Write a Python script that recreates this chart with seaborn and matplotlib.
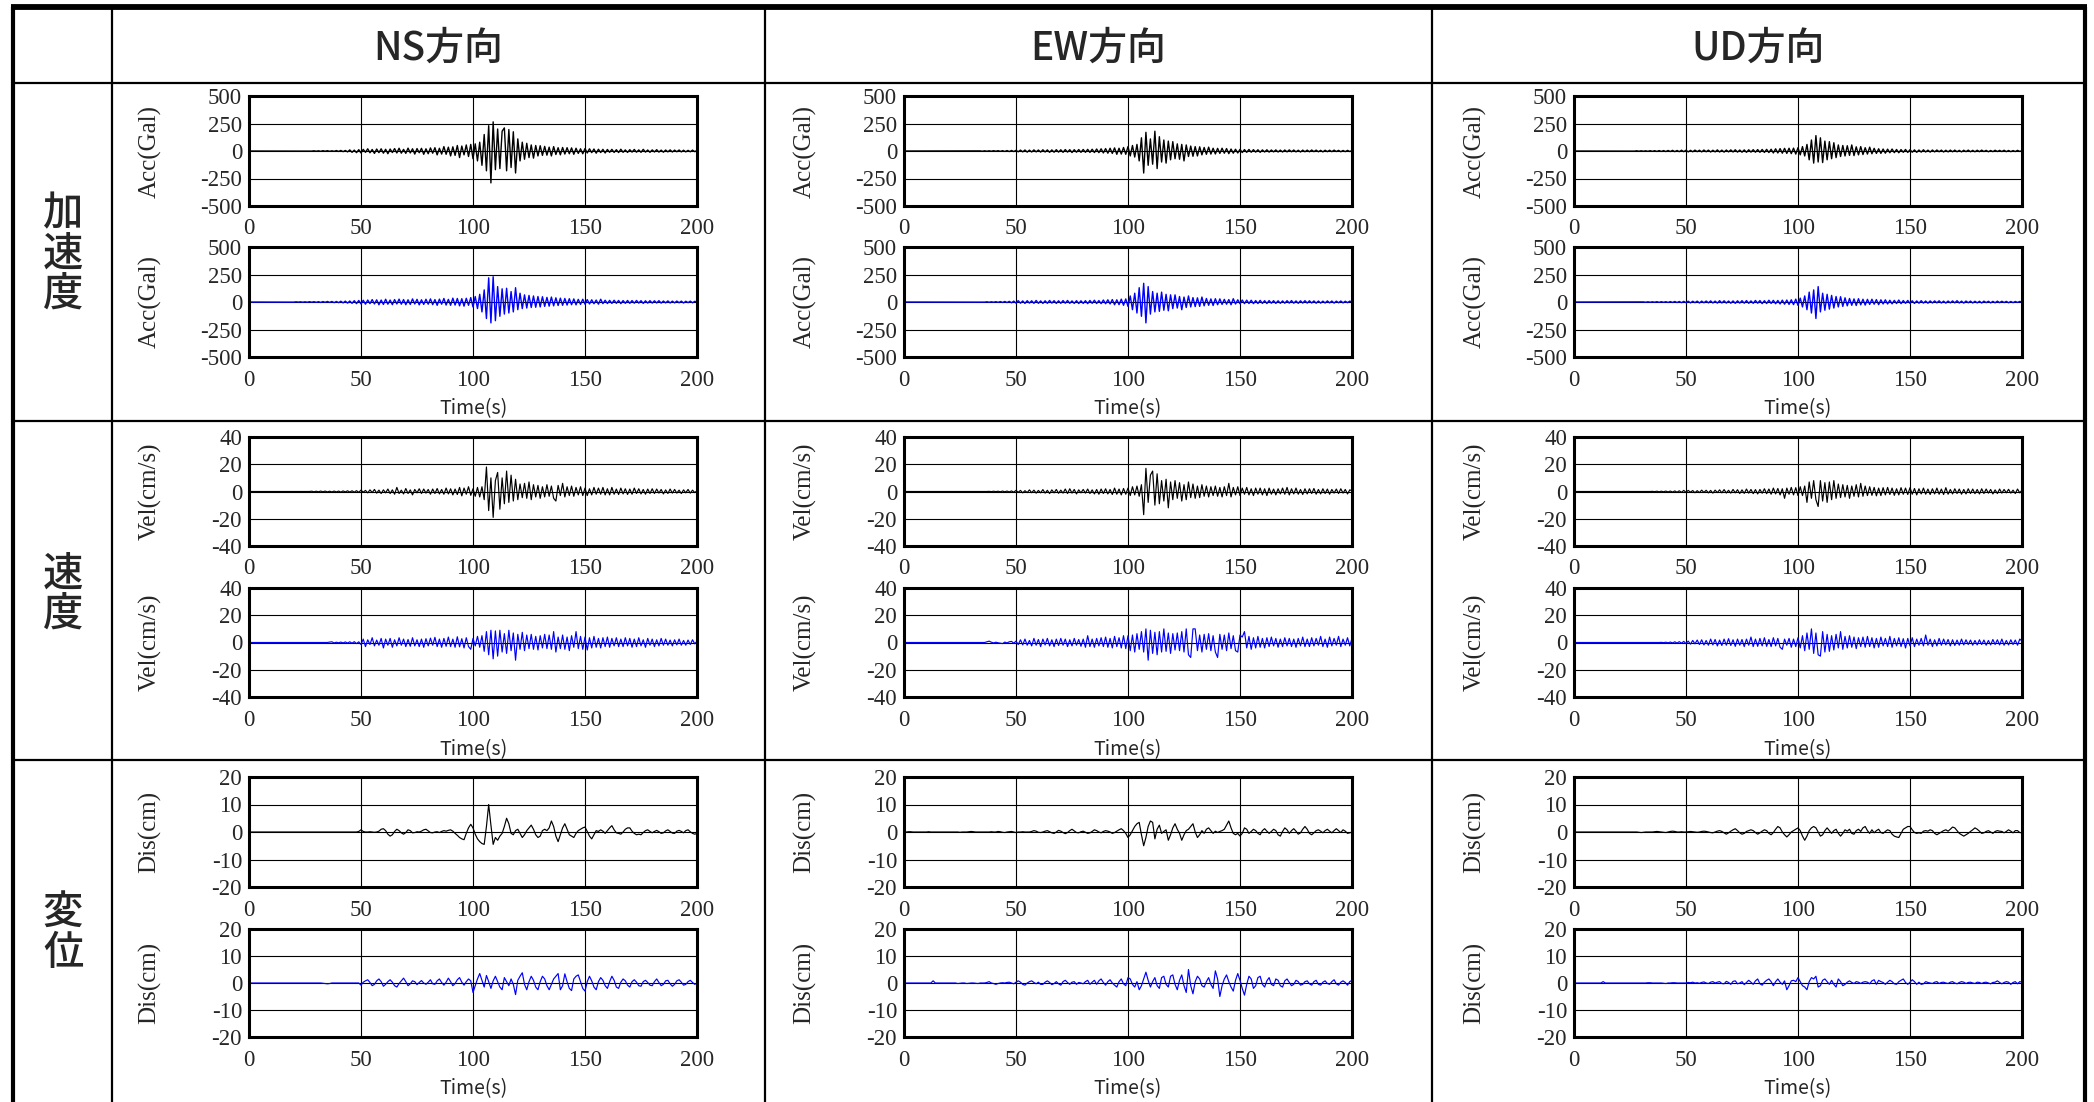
import numpy as np
import matplotlib
matplotlib.use("Agg")
import matplotlib.pyplot as plt
import seaborn as sns

# 観測記録(黒)と解析結果(青), 1秒ごとに図から読み取った値 (t = 0..200 s)
ns_acc_k = [
    0, 0, 0, 0, 0, 0, 0, 0, 0, 0,
    0, 0, 0, 0, 0, 0, 0, 0, 0, 0,
    0, 0, 0, 0, 0, 1, -1, 1, -1, 2,
    -2, 2, -3, 3, -2, 3, -3, 2, -3, 4,
    -4, 5, -6, 5, -8, 10, -12, 8, -15, 12,
    -18, 15, -12, 20, -16, 14, -22, 18, -15, 20,
    -20, 16, -25, 18, -14, 22, -18, 25, -20, 15,
    -22, 26, -18, 20, -28, 22, -16, 24, -30, 20,
    -25, 28, -20, 30, -35, 25, -28, 40, -30, 35,
    -45, 38, -40, 50, -60, 45, -35, 55, -50, 60,
    -70, 65, -90, 80, -130, 150, -180, 230, -290, 265,
    -170, 200, -160, 180, 210, -180, 195, -150, 175, -200,
    110, -90, 80, -75, 70, -60, 55, -65, 50, -45,
    48, -40, 42, -38, 35, -45, 40, -32, 30, -35,
    32, -28, 30, -25, 28, -30, 25, -22, 20, -25,
    22, -18, 20, -15, 18, -20, 16, -14, 15, -18,
    14, -12, 15, -13, 12, -14, 16, -12, 10, -13,
    12, -10, 14, -11, 10, -12, 15, -10, 9, -12,
    10, -9, 12, -10, 8, -11, 9, -8, 10, -9,
    8, -7, 9, -8, 7, -8, 6, -7, 8, -6, 5,
]
ns_acc_b = [
    0, 0, 0, 0, 0, 0, 0, 0, 0, 0,
    0, 0, 0, 0, 0, 1, -1, 1, -1, 1,
    -1, 2, -1, 2, -2, 2, -2, 3, -2, 3,
    -3, 3, -4, 4, -3, 5, -4, 5, -6, 5,
    -6, 7, -8, 8, -10, 9, -12, 12, -15, 14,
    -18, 16, -20, 18, -15, 22, -18, 20, -25, 18,
    -22, 25, -20, 18, -24, 22, -18, 26, -20, 22,
    -25, 20, -22, 28, -18, 24, -26, 20, -22, 25,
    -20, 28, -24, 22, -30, 26, -20, 32, -28, 24,
    -30, 35, -28, 32, -35, 30, -38, 34, -30, 40,
    -45, 50, -60, 70, -90, 110, -150, 220, -190, 230,
    -170, 140, -130, 120, -110, 125, -100, 95, -90, 130,
    -70, 80, -60, 65, -55, 60, -50, 55, -48, 50,
    -45, 48, -40, 42, -38, 45, -35, 38, -32, 35,
    -30, 32, -28, 30, -25, 28, -26, 24, -22, 25,
    -20, 22, -18, 20, -16, 18, -20, 25, -15, 16,
    -14, 15, -13, 16, -12, 14, -15, 13, -12, 14,
    -12, 13, -11, 14, -10, 12, -13, 11, -10, 12,
    -10, 11, -9, 12, -10, 9, -8, 10, -9, 8,
    -8, 9, -7, 8, -9, 7, -6, 8, -7, 6, 0,
]
ns_vel_k = [
    0, 0, 0, 0, 0, 0, 0, 0, 0, 0,
    0, 0, 0, 0, 0, 0, 0, 0, 0, 0,
    0, 0, 0, 0, 0, 0, 0, 0, 0.2, -0.2,
    0.2, -0.2, 0.3, -0.2, 0.3, -0.3, 0.2, -0.3, 0.3, -0.3,
    0.3, -0.4, 0.4, -0.3, 0.5, -0.4, 0.5, -0.5, 0.6, -0.6,
    1.0, -0.5, 0.8, -1.0, 1.2, -0.8, 1.5, -1.2, 1.0, -1.5,
    1.2, -1.0, 1.8, -1.5, 1.2, -2.0, 3.0, -1.5, 1.0, -1.8,
    2.2, -1.5, 1.2, -2.5, 1.5, -1.0, 2.0, -1.5, 1.8, -1.2,
    1.5, -2.0, 1.8, -1.5, 2.2, -1.8, 1.5, -2.0, 2.5, -1.8,
    2.0, -2.5, 1.8, -2.2, 3.0, -3.2, 2.5, -2.0, 3.5, -2.8,
    2.0, -3.5, 3.0, -4.0, 3.5, -6.0, 18.0, -14.0, 10.0, -19.0,
    8.0, 14.0, -13.0, 10.0, -9.0, 15.0, -8.0, 12.0, -7.0, 9.0,
    -6.0, 5.5, -4.5, 6.0, -5.0, 7.0, -6.0, 5.0, -4.0, 4.5,
    -5.0, 3.5, -4.0, 5.0, -3.5, 4.0, -5.0, -7.0, 4.5, -3.0,
    6.0, -4.0, 3.5, -3.0, 4.0, -3.5, 3.0, -2.5, 3.5, -3.0,
    2.5, -3.0, 2.0, -2.5, 3.0, -2.0, 2.5, -2.0, 3.0, -2.5,
    2.0, -2.5, 3.0, -2.0, 1.8, -2.2, 2.5, -1.8, 2.0, -2.2,
    1.8, -2.0, 2.5, -1.5, 2.0, -1.8, 1.5, -2.0, 1.8, -1.5,
    2.0, -1.5, 1.8, -1.2, 1.5, -1.8, 1.2, -1.5, 1.8, -1.2,
    1.5, -1.2, 1.0, -1.5, 1.2, -1.0, 1.5, -1.2, 1.0, -0.8, 0.5,
]
ns_vel_b = [
    0, 0, 0, 0, 0, 0, 0, 0, 0, 0,
    0, 0, 0, 0, 0, 0, 0, 0, 0, 0,
    0, 0, 0, 0, 0, 0, 0, 0, 0, 0,
    0, 0, 0, 0, 0, 0, 0.3, 0.5, -0.3, 0.2,
    -0.2, 0.3, -0.3, 0.4, -0.4, 0.5, -0.5, 0.6, -0.8, 0.5,
    -1.5, 2.5, -3.0, 2.0, -1.5, 3.5, -2.5, 1.8, -2.0, 3.0,
    -4.0, 2.5, -2.0, 3.0, -3.5, 2.0, -2.5, 3.5, -2.0, 2.5,
    -3.0, 2.2, -2.8, 3.5, -2.5, 2.0, -3.0, 2.5, -3.5, 2.8,
    -2.5, 3.2, -2.0, 3.8, -3.0, 2.5, -3.5, 3.0, -2.8, 4.0,
    -3.0, 2.5, -3.5, 4.2, -3.2, 2.8, -4.0, 3.5, -3.0, -5.0,
    3.0, -2.5, 4.5, -3.5, 5.0, -6.5, 8.0, -9.0, 9.0, -12.0,
    8.5, -10.0, 9.0, -7.0, 6.5, -8.0, 9.0, -6.0, 7.0, -13.0,
    6.0, -5.0, 7.5, -6.0, 5.5, -4.5, 6.0, -5.0, 4.5, -5.5,
    5.0, -4.0, 6.0, -4.5, 5.5, -5.0, 8.0, -7.0, 4.0, -4.5,
    5.5, -5.0, 4.0, -6.0, 5.0, -3.5, 8.0, -4.5, 4.5, -5.0,
    4.0, -5.5, 3.5, -4.0, 4.5, -3.5, 3.0, -4.0, 3.5, -3.0,
    4.0, -3.5, 3.0, -2.5, 3.5, -3.0, 2.5, -3.0, 3.5, -2.5,
    3.0, -3.5, 2.5, -3.0, 3.5, -2.5, 2.0, -3.5, 3.0, -2.0,
    2.5, -3.0, 2.0, -2.5, 3.0, -2.0, 2.5, -2.0, 1.8, -2.5,
    2.0, -1.8, 2.5, -2.0, 1.5, -2.0, 1.8, -1.5, 2.0, -1.0, 1.0,
]
ns_dis_k = [
    0, 0, 0, 0, 0, 0, 0, 0, 0, 0,
    0, 0, 0, 0, 0, 0, 0, 0, 0, 0,
    0, 0, 0, 0, 0, 0, 0, 0, 0, 0,
    0, 0, 0, 0, 0, 0, 0, 0, 0, 0,
    0, 0, 0, 0, 0, 0, 0, 0, 0, 0.2,
    0.8, 0.2, 0, 0, 0.1, 0, -0.1, 0, 0.3, 1.0,
    1.2, 0.5, -0.8, -1.5, -1.0, 0.2, 1.0, 0.5, -0.3, -0.8,
    -0.2, 0.8, 0.5, -0.3, -0.2, 0.1, 0, 0.3, 0.8, 1.0,
    0.4, -0.2, -0.3, 0, 0.1, -0.2, 0.2, 0.5, 0.3, 0.6,
    0.8, 0.3, -0.5, -1.2, -2.0, -2.5, -2.8, -0.5, 1.5, 2.8,
    1.5, -0.8, -2.5, -3.5, -4.2, -4.5, 2.0, 10.0, 2.5, -4.5,
    -2.0, -3.0, -1.5, -0.5, 2.0, 5.0, 3.0, -0.5, -1.0, 0.5,
    1.0, -0.5, -2.0, -1.0, 0.5, 1.5, 2.5, 1.0, -1.0, -2.0,
    -1.5, 0.5, 1.0, 0.5, 1.5, 4.0, 2.0, -1.5, -3.5, -1.0,
    1.5, 3.0, 1.0, -1.0, -1.5, -2.0, -0.5, 0.5, 1.0, 1.5,
    1.8, 0.2, -1.5, -2.5, -1.0, 0.5, 0.2, 0.8, 0.3, -0.5,
    0.5, 1.5, 2.3, 0.8, -0.3, -0.5, -0.8, 0, 1.0, 1.5,
    1.5, 0.3, -0.5, -1.0, -0.8, -1.0, -0.2, 0.5, 0.8, 0.2,
    -0.3, 0.2, 0.6, 0.1, -0.5, -0.3, 0.4, 0.8, 0.2, -0.4,
    -0.5, 0.3, 0.6, 0.2, -0.3, 0.5, 0.8, 0.1, -0.5, -0.8, -0.5,
]
ns_dis_b = [
    0, 0, 0, 0, 0, 0, 0, 0, 0, 0,
    0, 0, 0, 0, 0, 0, 0, 0, 0, 0,
    0, 0, 0, 0, 0, 0, 0, 0, 0, 0,
    0, 0, 0, -0.1, -0.2, -0.3, -0.2, 0, 0, 0,
    0, 0, 0, 0, 0, 0, 0, 0, 0, 0,
    -0.8, 0.3, 0.8, 1.2, 0.2, -1.0, -0.5, 0.8, 1.5, 0.5,
    -1.2, -0.5, 0.5, 1.2, 0.3, -1.0, -1.5, -0.2, 0.8, 1.8,
    0.5, -1.0, -0.3, 0.8, 0.5, -0.6, 0.2, 0.9, 0, -0.5,
    0.3, 1.2, -0.3, -0.5, 0.8, 1.5, 0.2, -0.8, 0.3, 1.8,
    0.5, -1.0, -0.2, 1.2, 2.0, 0.3, -0.8, 0.5, 1.5, 0.8,
    -3.5, -1.0, 1.5, 3.5, 1.0, -1.5, 2.8, 0.5, -2.0, 0.8,
    2.5, 0.5, -1.5, -2.5, 2.0, 0.5, -1.0, 1.5, -0.5, -4.3,
    1.0, 2.5, 3.8, -0.5, -2.5, 0.5, 2.5, 1.0, -1.5, -2.5,
    0.5, 2.5, 1.5, -1.0, -2.5, -0.5, 1.5, 2.5, 3.5, -2.5,
    -1.0, 3.4, 0.5, -2.0, -2.8, 1.5, 2.5, 3.0, 0.5, -2.0,
    -3.0, 0.5, 2.5, 0.8, -1.5, -2.5, 0.5, 2.0, 1.0, -1.0,
    -2.0, 0.5, 2.5, 1.0, -1.5, -2.0, 0.3, 1.5, 0.8, -0.8,
    -1.5, 0.5, 1.2, 0.3, -1.0, -1.2, 0.5, 1.0, 0.2, -0.8,
    -1.0, 0.5, 1.5, 0.2, -1.0, -0.5, 0.8, 1.0, -0.3, -1.2,
    -0.5, 0.8, 1.2, 0.3, -0.8, -0.5, 0.5, 1.0, 0.2, -0.5, 0,
]
ew_acc_k = [
    0, 0, 0, 0, 0, 0, 0, 0, 0, 0,
    0, 0, 0, 0, 0, 0, 0, 0, 0, 0,
    0, 0, 0, 0, 0, 0, 0, 0, 1, -1,
    1, -1, 1, -1, 1, -2, 2, -2, 2, -2,
    3, -2, 3, -3, 3, -4, 4, -5, 5, -5,
    6, -7, 8, -8, 9, -10, 8, -9, 10, -8,
    9, -10, 11, -9, 10, -12, 10, -11, 12, -10,
    11, -12, 13, -10, 12, -14, 12, -11, 13, -12,
    14, -12, 15, -13, 16, -14, 18, -15, 20, -18,
    22, -20, 25, -22, 28, -30, 25, -28, 32, -30,
    40, -45, 50, -55, 60, -90, 120, -200, 170, -130,
    110, -120, 180, -160, 130, -100, 100, -110, 90, -80,
    85, -70, 65, -75, 60, -90, 55, -50, 45, -48,
    40, -45, 38, -35, 32, -30, 35, -28, 25, -27,
    24, -22, 25, -20, 22, -24, 18, -20, 16, -18,
    15, -14, 13, -12, 14, -11, 12, -10, 11, -12,
    10, -9, 11, -10, 9, -8, 10, -9, 8, -9,
    9, -8, 10, -7, 9, -8, 7, -9, 8, -7,
    8, -7, 9, -6, 8, -7, 6, -8, 7, -6,
    7, -6, 8, -5, 6, -7, 5, -6, 6, -5, 4,
]
ew_acc_b = [
    0, 0, 0, 0, 0, 0, 0, 0, 0, 0,
    0, 0, 0, 0, 0, 0, 0, 0, 0, 0,
    0, 0, 0, 0, 0, 0, 0, 0, 0, 0,
    0, 1, -1, 1, -1, 1, -1, 2, -2, 2,
    -2, 3, -3, 4, -4, 5, -5, 6, -7, 8,
    -10, 12, -11, 10, -13, 12, -10, 11, -12, 14,
    -12, 10, -13, 11, -12, 14, -10, 12, -13, 11,
    -12, 13, -11, 14, -12, 10, -13, 12, -14, 11,
    -13, 12, -15, 14, -12, 16, -14, 13, -15, 18,
    -16, 20, -18, 22, -25, 20, -24, 26, -30, 28,
    -40, 55, -70, 80, -100, 130, -130, 170, -190, 140,
    -110, 95, -90, 80, -85, 90, -75, 70, -80, 65,
    -60, 65, -55, 50, -70, 45, -50, 55, -45, 40,
    -42, 38, -40, 45, -35, 32, -30, 28, -32, 30,
    -25, 28, -22, 24, -20, 22, -25, 30, -18, 20,
    -16, 18, -15, 17, -14, 16, -15, 13, -14, 15,
    -13, 12, -14, 13, -11, 12, -13, 11, -12, 10,
    -11, 12, -10, 13, -11, 10, -12, 11, -10, 12,
    -10, 11, -9, 10, -11, 9, -10, 8, -9, 10,
    -8, 9, -10, 8, -7, 9, -8, 7, -6, 8, 0,
]
ew_vel_k = [
    0, 0, 0, 0, 0, 0, 0, 0, 0, 0,
    0, 0, 0, 0, 0, 0, 0, 0, 0, 0,
    0, 0, 0, 0, 0, 0, 0, 0, 0, 0,
    0, 0, 0, 0, 0, 0, 0, 0, 0.1, -0.1,
    0.2, -0.1, 0.2, -0.2, 0.3, -0.2, 0.3, -0.3, 0.4, -0.5,
    0.8, -0.6, 0.8, -1.0, 0.6, -0.8, 1.2, -0.9, 1.0, -1.2,
    0.8, -1.0, 1.4, -1.2, 0.9, -1.5, 1.2, -1.0, 1.5, -1.3,
    1.0, -1.2, 1.8, -1.5, 2.0, -1.2, 1.5, -1.8, 1.2, -1.0,
    1.5, -1.2, 1.8, -1.5, 1.2, -1.8, 1.5, -2.0, 1.8, -1.5,
    2.0, -1.8, 1.5, -2.2, 2.5, -2.0, 1.8, -2.5, 2.2, -2.0,
    2.5, -3.0, 3.5, -2.5, 4.0, -3.5, 5.0, -17.0, 17.0, -8.0,
    12.0, 15.0, -10.0, 13.0, -9.0, 8.0, -7.0, 9.0, -12.0, 7.0,
    -6.0, 8.0, -5.0, 6.5, -7.0, 5.0, -6.0, 7.0, -4.5, 5.5,
    -5.0, 4.0, -4.5, 5.0, -3.5, 4.0, -4.0, 3.5, -3.0, 4.0,
    -3.5, 3.0, -4.0, 3.5, -3.0, 6.0, -4.0, 3.0, -2.5, 3.5,
    -3.0, 2.5, -2.0, 3.0, -2.5, 2.0, -3.0, 2.5, -2.0, 2.5,
    -2.5, 2.0, -3.0, 2.5, -2.0, 1.8, -2.5, 2.0, -1.8, 2.5,
    -2.0, 3.0, -2.5, 2.0, -1.8, 2.5, -2.0, 1.5, -2.2, 2.0,
    -1.8, 2.0, -1.5, 2.2, -2.0, 1.5, -1.8, 2.0, -1.5, 1.8,
    -2.0, 1.5, -1.2, 1.8, -1.5, 2.0, -1.2, 1.5, -1.8, 1.2, 0.5,
]
ew_vel_b = [
    0, 0, 0, 0, 0, 0, 0, 0, 0, 0,
    0, 0, 0, 0, 0, 0, 0, 0, 0, 0,
    0, 0, 0, 0, 0, 0, 0, 0, 0, 0,
    0, 0, 0, 0, 0, 0, 0, 0.5, 1.0, 0.2,
    -0.3, 0.2, -0.2, -0.5, -0.8, 0.3, -0.3, 0.5, 0.8, -0.5,
    1.0, -1.5, 2.0, -1.8, 2.5, -2.0, 1.5, -2.5, 3.0, -2.0,
    2.2, -3.0, 2.5, -1.8, 3.0, -2.5, 2.0, -3.0, 2.5, -2.2,
    3.0, -2.0, 2.5, -3.0, 2.0, -2.5, 3.0, -2.0, 2.2, -2.8,
    2.5, -3.5, 5.0, -3.0, 2.5, -3.5, 3.0, -2.5, 3.5, -3.0,
    4.0, -3.5, 3.0, -4.0, 4.5, -3.0, 3.5, -4.0, 5.0, -4.5,
    5.0, -6.0, 5.5, -7.0, 6.5, -5.0, 8.0, -7.0, 10.0, -13.0,
    9.0, -8.0, 7.5, -9.0, 8.0, -7.0, 10.0, -6.5, 7.0, -8.0,
    6.5, -5.5, 7.0, -6.0, 8.0, -7.0, 10.0, -9.0, -11.0, 10.0,
    10.0, -6.0, 5.5, -7.0, 6.0, -5.0, 6.5, -6.0, 5.0, -7.0,
    -11.0, 6.0, -5.0, 5.5, -6.0, 7.0, -4.5, 5.0, -6.0, -7.0,
    5.5, 4.0, 8.0, -4.0, 4.5, -5.0, 3.5, -4.0, 4.5, -3.5,
    3.0, -4.0, 3.5, -3.0, 4.0, -2.5, 3.0, -3.5, 2.5, -3.0,
    3.5, -2.5, 3.0, -3.0, 2.5, -3.5, 3.0, -2.5, 4.0, -3.0,
    2.5, -3.0, 3.5, -2.5, 3.0, -2.0, 4.5, -3.0, 2.5, -3.5,
    4.0, -2.5, 3.0, -2.0, 4.5, -3.0, 2.5, -2.0, 3.5, -2.5, 3.0,
]
ew_dis_k = [
    0, 0, 0.1, 0.1, 0, 0, 0, 0, 0, 0,
    0, 0.1, 0, 0, 0, 0, 0, 0, 0, 0,
    0, 0, 0, 0, 0, -0.1, 0, 0, 0, 0.1,
    0.2, 0.1, 0, 0, 0, 0, 0, 0, 0, 0.1,
    0, 0, 0.2, 0.1, -0.1, -0.2, 0, 0.1, 0.2, 0,
    -0.2, 0, 0, 0.1, 0, 0, 0, 0.2, 0.5, 0.3,
    -0.1, -0.2, 0, 0.3, 0.5, 0.1, -0.3, -0.5, 0, 0.6,
    0.3, -0.2, -0.6, -0.2, 0.5, 1.0, 0.4, -0.2, -0.3, 0.1,
    0.3, -0.1, -0.5, -0.3, 0.2, 0.8, 0.5, 0, -0.3, 0.2,
    0.5, 0.3, 0, -0.5, -0.2, 0.3, 0.8, 1.2, 0.5, -0.5,
    -2.0, -1.0, 0.5, 2.0, 3.0, 3.5, -1.0, -5.0, -2.0, 2.0,
    4.0, 3.5, -2.5, 1.0, 2.5, -0.5, 0.2, 0.8, -3.0, -1.0,
    1.5, 3.0, 1.0, -0.5, -3.0, -1.0, 0.5, 1.0, 2.0, 3.0,
    0, -2.0, -1.0, 0.5, -0.5, 1.0, 1.5, 0.5, -0.5, 0.3,
    -0.2, 0.2, 0.5, 1.0, 2.5, 4.0, 1.5, -0.5, -1.0, -0.5,
    -1.5, -0.5, 1.5, 1.0, -0.5, 0.2, 1.0, 0.5, -0.5, -1.0,
    0.5, 1.2, 0.3, -0.5, 0.2, 1.0, 0.5, -1.0, -1.5, 0.2,
    1.5, 0.8, -0.5, 0.5, 1.2, 0.3, -0.8, -0.3, 1.0, 2.0,
    1.0, -0.5, -1.0, -0.3, 0.5, 0.8, 0.3, -0.3, 0.5, 1.0,
    0.3, -0.3, 0.5, 1.2, 0.5, -0.2, 0.8, 0.3, -0.5, -0.3, 0,
]
ew_dis_b = [
    0, 0, 0, 0, 0, 0, 0, 0, 0, 0,
    0, 0, 0, 0.8, 0, 0, 0, 0, 0, 0,
    0, 0, 0, 0, -0.2, -0.1, 0, 0, -0.2, -0.1,
    0, 0, -0.1, -0.2, 0, 0, 0, 0.2, 0.5, 0,
    -0.2, -0.5, -0.2, 0, 0.1, 0, 0.2, 0.3, 0, -0.3,
    0.3, 0.8, 0.3, -0.5, -0.8, 0, 0.5, 0.8, 0.2, -0.3,
    0.3, -0.5, -0.5, 0.3, 0.8, 0.2, -0.6, -0.2, 0.5, -0.3,
    -0.8, 0.5, 1.0, 0.2, -0.5, 0.3, 0.5, -0.5, 0.2, 0,
    -0.3, 0.5, 1.0, -0.5, 0.3, 1.0, -0.5, 0.8, 1.5, 0.2,
    -0.8, 0.5, 1.2, 0, -0.8, -1.5, 0.5, 1.5, -0.3, -1.0,
    2.0, 1.5, -0.5, -1.5, 0.5, -2.5, -1.0, 1.5, 4.0, 1.0,
    -1.5, 0.5, 2.0, -1.0, -2.0, 2.0, 2.5, -0.5, -1.5, 2.5,
    3.0, -0.5, -2.5, 1.0, 3.0, -1.0, -3.5, 5.0, -1.0, -4.0,
    0.5, 2.5, 1.5, -1.0, -1.5, 0.5, 2.0, -0.5, -2.0, 4.5,
    1.5, -5.0, -1.0, 1.5, 3.0, 0.5, -1.5, -3.0, 1.0, 3.5,
    1.0, -2.0, -4.5, -0.5, 2.5, 1.5, -2.0, -1.0, 2.0, 2.5,
    -0.5, -1.5, 0.8, 2.0, -0.5, -1.0, 1.5, 1.0, -1.0, -1.5,
    0.8, 1.5, 0.2, -1.0, -0.5, 1.0, 0.5, -0.8, -0.5, 0.5,
    0.8, -0.3, -0.8, 0.5, 1.0, -0.5, -0.8, 0.3, 0.8, -0.2,
    -0.5, 0.5, 1.2, -0.3, -0.8, 0.3, 0.8, 0.2, -0.8, 0.5, 1.0,
]
ud_acc_k = [
    0, 0, 0, 0, 0, 0, 0, 0, 0, 0,
    0, 0, 0, 0, 0, 0, 0, 0, 0, 0,
    1, -1, 1, -1, 1, -1, 1, -1, 2, -2,
    2, -2, 2, -3, 3, -3, 3, -4, 4, -4,
    4, -5, 5, -5, 6, -6, 5, -6, 7, -6,
    7, -8, 6, -7, 8, -6, 7, -8, 9, -7,
    8, -9, 7, -8, 10, -9, 8, -10, 9, -8,
    10, -9, 11, -10, 9, -11, 10, -12, 11, -10,
    12, -11, 13, -12, 14, -13, 15, -14, 16, -18,
    20, -18, 22, -20, 24, -22, 25, -24, 26, -28,
    30, -35, 40, -45, 60, -80, 100, -110, 140, -100,
    120, -105, 90, -80, 85, -70, 75, -60, 55, -50,
    50, -45, 48, -40, 55, -42, 38, -35, 40, -32,
    30, -28, 35, -25, 24, -22, 20, -22, 18, -20,
    17, -16, 18, -15, 14, -16, 13, -12, 14, -13,
    12, -11, 10, -12, 9, -10, 11, -9, 8, -10,
    9, -8, 9, -7, 8, -9, 7, -8, 8, -7,
    8, -7, 6, -8, 7, -6, 8, -7, 6, -7,
    7, -6, 8, -5, 6, -7, 5, -6, 7, -5,
    6, -5, 7, -6, 5, -6, 4, -5, 6, -4, 3,
]
ud_acc_b = [
    0, 0, 0, 0, 0, 0, 0, 0, 0, 0,
    0, 0, 0, 0, 0, 0, 0, 0, 0, 0,
    0, 1, -1, 1, -1, 1, -1, 1, -1, 1,
    -1, 1, -2, 2, -2, 2, -2, 3, -3, 3,
    -3, 3, -4, 4, -4, 5, -5, 5, -6, 6,
    -6, 7, -8, 7, -6, 8, -9, 8, -7, 9,
    -8, 10, -9, 8, -10, 12, -9, 11, -10, 9,
    -11, 10, -12, 11, -10, 12, -11, 13, -12, 10,
    -12, 14, -11, 13, -15, 12, -14, 16, -13, 15,
    -16, 14, -18, 17, -20, 18, -22, 20, -24, 26,
    -30, 35, -45, 55, -70, 90, -100, 110, -150, 140,
    -90, 80, -75, 70, -65, 60, -55, 50, -45, 48,
    -40, 38, -35, 32, -30, 28, -32, 30, -26, 25,
    -28, 24, -22, 25, -20, 22, -24, 20, -18, 20,
    -18, 16, -17, 15, -14, 18, -15, 13, -12, 14,
    -12, 11, -13, 10, -11, 12, -10, 9, -11, 10,
    -9, 10, -8, 11, -9, 8, -10, 9, -8, 10,
    -8, 12, -9, 8, -10, 9, -7, 8, -9, 7,
    -8, 7, -9, 8, -6, 7, -8, 6, -7, 8,
    -6, 7, -5, 6, -7, 5, -6, 5, -4, 5, 0,
]
ud_vel_k = [
    0, 0, 0, 0, 0, 0, 0, 0, 0, 0,
    0, 0, 0, 0, 0, 0, 0, 0, 0, 0,
    0, 0, 0, 0, 0, 0, 0, 0, 0, 0,
    0, 0, 0, 0, 0, 0.1, -0.1, 0.2, -0.2, 0.2,
    -0.2, 0.3, -0.3, 0.3, -0.4, 0.4, -0.5, 0.5, -0.6, 0.8,
    -0.6, 0.8, -0.5, 0.7, -0.9, 0.6, -0.8, 1.0, -0.7, 0.9,
    -1.0, 0.8, -1.2, 1.0, -0.8, 1.2, -1.0, 1.4, -1.1, 0.9,
    -1.2, 1.5, -1.0, 1.3, -1.5, 1.2, -1.4, 1.8, -1.2, 1.5,
    -1.6, 1.4, -1.8, 1.5, -1.3, 2.0, -1.6, 1.8, -2.0, 2.5,
    -1.8, 2.2, -2.5, 2.0, -5.0, 2.5, -2.0, 3.0, -2.5, 2.8,
    -3.0, 3.5, -3.0, 4.0, -8.0, 7.0, -5.0, 8.0, -6.0, -11.0,
    8.0, -7.0, 6.5, -8.0, 7.0, -6.0, 8.0, -5.0, 5.5, -4.5,
    5.0, -4.0, 4.5, -5.0, 4.0, -3.5, 5.0, -4.0, 6.0, -3.5,
    4.0, -3.0, 3.5, -2.8, 3.0, -3.2, 2.5, -3.0, 2.8, -2.5,
    3.0, -2.2, 2.5, -2.8, 2.0, -2.5, 2.8, -2.0, 2.5, -2.2,
    2.8, -2.0, 2.2, -2.5, 2.0, -1.8, 2.5, -2.0, 1.8, -2.2,
    2.0, -1.8, 2.5, -2.0, 1.8, -2.2, 2.8, -2.0, 1.5, -1.8,
    2.0, -1.5, 1.8, -2.0, 1.5, -1.8, 2.0, -1.5, 1.8, -1.6,
    1.5, -1.8, 2.0, -1.5, 1.8, -1.2, 1.5, -1.8, 1.2, -1.5,
    1.8, -1.2, 1.5, -1.0, 1.6, -1.2, 1.0, -1.5, 1.8, -1.0, 1.0,
]
ud_vel_b = [
    0, 0, 0, 0, 0, 0, 0, 0, 0, 0,
    0, 0, 0, 0, 0, 0, 0, 0, 0, 0,
    0, 0, 0, 0, 0, 0, 0, 0, 0, 0,
    0, 0, 0, 0, 0, 0, 0, 0, 0, 0.1,
    -0.1, 0.2, -0.2, 0.3, -0.3, 0.5, -0.4, 0.6, -0.5, 0.8,
    -0.8, 1.0, -1.2, 1.5, -1.0, 1.8, -1.5, 2.0, -1.8, 1.5,
    -2.0, 2.5, -1.8, 2.2, -2.5, 1.8, -2.2, 2.5, -2.0, 2.8,
    -2.2, 2.0, -2.8, 2.5, -2.0, 2.2, -3.0, 2.5, -2.0, 4.0,
    -3.0, 2.5, -2.8, 3.0, -2.5, 3.5, -2.8, 2.2, -3.0, 3.5,
    -2.5, 3.0, -3.5, -5.0, 2.5, -2.0, 3.0, -3.5, 2.5, -3.0,
    3.5, -4.0, 5.0, -6.0, 7.0, -5.0, 10.0, -8.0, 7.0, -9.0,
    -10.0, 8.0, -7.0, 6.0, -6.5, 5.0, -5.5, 6.0, -4.0, 8.0,
    -5.0, 4.5, -4.0, 5.0, -3.5, 4.0, -4.5, 3.5, -3.0, 4.0,
    -3.5, 4.5, -3.0, 3.5, -4.0, 3.0, -3.5, 4.0, -2.5, 3.0,
    -3.0, 4.5, -3.5, 3.0, -2.5, 3.5, -3.0, 2.8, -4.0, 3.0,
    -2.5, 3.5, -3.0, 2.5, -2.0, 3.0, -2.5, 5.5, -2.0, 2.5,
    -3.0, 2.0, -2.5, 3.0, -2.0, 2.5, -1.8, 2.2, -2.5, 2.0,
    -2.2, 1.8, -2.0, 2.5, -1.8, 2.0, -1.5, 1.8, -2.0, 1.5,
    -1.8, 2.0, -1.5, 1.8, -2.0, 1.5, -1.8, 2.2, -1.5, 2.0,
    -1.8, 2.5, -2.0, 1.5, -1.8, 2.0, -1.5, 1.8, -2.0, 2.5, 1.0,
]
ud_dis_k = [
    0, 0, 0, 0, 0, 0, 0, 0, 0, 0,
    0, 0, 0, 0, 0, 0, 0, 0, 0, 0,
    0, 0, 0, 0, 0, 0, 0, 0, 0, -0.1,
    -0.2, -0.1, 0, 0, 0, 0, 0.1, 0.2, 0.1, 0,
    -0.1, -0.2, 0, 0.2, 0.3, 0.2, 0, 0, 0.1, 0,
    0, 0.1, 0.2, 0.1, 0, -0.1, 0, 0.2, 0.3, 0.2,
    0, -0.2, -0.3, 0, 0.3, 0.5, 0.2, -0.3, -0.8, -0.3,
    0.3, 0.8, 1.2, 0.5, -0.3, -0.8, -0.5, 0.2, 0.5, 0.8,
    0.5, -0.2, -0.8, -0.3, 0.3, 0.8, 0.5, -0.5, -1.0, -0.2,
    1.0, 2.0, 1.5, 0, -1.0, -1.8, -1.0, 0, 0.5, 1.0,
    1.5, 0.5, -1.5, -3.0, -1.5, 0.5, 1.5, 2.0, 1.5, 0,
    -1.5, -1.0, 0.5, 1.5, 0.5, -0.5, 0.5, 1.0, -0.5, -1.5,
    -0.5, 0.8, 0.3, 1.0, -0.5, -0.8, 0.5, 1.0, 0.2, 1.5,
    2.0, 0.5, -0.5, 0.8, -0.3, 0.5, 1.0, -0.2, -0.5, 0.2,
    0.8, 0.5, -0.8, -1.5, -1.8, -2.0, -0.5, 1.0, 1.5, 2.0,
    2.0, 0.8, -0.2, -0.5, -0.3, -0.5, 0.3, 0.5, 0.3, 0.8,
    0.5, -0.5, -1.0, -0.5, 0, 0.5, 0.8, 0.3, 1.0, 1.8,
    1.5, 0.5, -0.5, -1.0, -1.5, -1.0, -0.5, 0.2, 0.8, 1.5,
    1.0, 0.3, -0.5, -0.3, 0.2, 0.5, 0, -0.5, 0.2, 0.5,
    0.3, 0.2, -0.3, 0.2, 0.8, 0.3, -0.3, 0.5, 0.5, -0.2, -0.3,
]
ud_dis_b = [
    0, 0, 0, 0, 0, 0, 0, 0, 0, 0,
    0, 0, 0, 0.5, 0, 0, 0, 0, 0, 0,
    0, 0, 0, 0, 0, 0, 0, 0, 0, 0,
    0, 0, 0, 0.1, 0.1, 0, 0, 0, 0, 0,
    -0.1, -0.2, 0, 0, 0.1, 0.1, 0, 0, 0, 0,
    0, 0.2, 0.1, 0.3, 0, 0.1, -0.1, 0.2, 0.4, 0,
    -0.2, 0.3, 0.5, 0, 0.3, 0.5, -0.2, -0.3, 0.6, 0.2,
    -0.5, 0.6, 0.8, -0.3, 0, 0.5, -0.6, 0.2, 1.0, 0.3,
    -0.5, 0.8, 1.5, -0.3, -0.8, 0.3, 1.0, 1.5, 0.5, -1.0,
    0.5, 1.5, 0.3, -0.5, 0.8, -2.5, -1.0, 0.8, 1.0, 0.5,
    2.0, 0.5, -1.0, -1.5, -2.5, 0.5, 2.0, 1.5, 2.5, -1.5,
    -1.0, 1.0, 1.5, 0.5, -0.5, 1.0, -0.5, -1.5, 1.5, 0.5,
    -1.0, -0.5, 0.3, 0.8, 0.2, -0.2, 0.5, 0.3, -0.2, 0.3,
    0.5, 0.3, -0.3, 0.8, 1.2, -0.5, 1.0, 0.5, 0.2, -0.5,
    0.3, 1.0, 0.5, -0.3, -0.5, 0.5, 1.0, 1.5, 0.2, -0.5,
    0.3, 1.2, 0.5, -0.5, 0.3, -0.5, -0.3, 0.5, 0.2, 0,
    -0.2, 0.3, 0.5, -0.2, 0.2, 0.3, 0, -0.2, 0.3, 0.5,
    0, -0.3, 0.2, 0.5, 0.3, -0.2, 0.2, 0.3, 0, -0.2,
    0.3, 0.2, -0.2, 0.2, 0.3, 0, -0.3, 0.2, 0.3, 0.8,
    0.2, -0.3, 0.2, 0.5, 0.3, -0.5, 0.2, 0.5, -0.3, 0.5, 0.3,
]

directions = ["NS方向", "EW方向", "UD方向"]
row_titles = ["加速度", "速度", "変位"]
y_labels = ["Acc(Gal)", "Vel(cm/s)", "Dis(cm)"]
y_limits = [500, 40, 20]
y_steps = [250, 20, 10]
x_ticks = [0, 50, 100, 150, 200]

traces = {
    ("NS", 0): (ns_acc_k, ns_acc_b), ("NS", 1): (ns_vel_k, ns_vel_b), ("NS", 2): (ns_dis_k, ns_dis_b),
    ("EW", 0): (ew_acc_k, ew_acc_b), ("EW", 1): (ew_vel_k, ew_vel_b), ("EW", 2): (ew_dis_k, ew_dis_b),
    ("UD", 0): (ud_acc_k, ud_acc_b), ("UD", 1): (ud_vel_k, ud_vel_b), ("UD", 2): (ud_dis_k, ud_dis_b),
}

W, H = 2094, 1102
sns.set_style("white")
plt.rcParams['font.family'] = ['Liberation Serif', 'DejaVu Serif']
plt.rcParams['axes.unicode_minus'] = False
JP = ['Noto Sans CJK JP', 'DejaVu Sans']

fig = plt.figure(figsize=(W / 100, H / 100), dpi=100)
fig.patch.set_facecolor('white')

bg = fig.add_axes([0, 0, 1, 1])
bg.set_xlim(0, W)
bg.set_ylim(H, 0)
bg.axis('off')

# 表の罫線
col_x = [13, 112, 765, 1432, 2085]
row_y = [7, 83, 421, 760, 1102]
bg.plot([11, 2087], [7, 7], color='black', lw=4.2, solid_capstyle='butt')
bg.plot([13, 13], [7, H], color='black', lw=3.0)
bg.plot([2085, 2085], [7, H], color='black', lw=3.0)
for x in col_x[1:-1]:
    bg.plot([x, x], [7, H], color='black', lw=1.6)
for y in row_y[1:-1]:
    bg.plot([13, 2085], [y, y], color='black', lw=1.6)

for ci, name in enumerate(directions):
    cx = (col_x[ci + 1] + col_x[ci + 2]) / 2
    bg.text(cx, 49, name, ha='center', va='center', fontsize=28, family=JP,
            fontweight='medium')

# 行見出し: 縦に1文字ずつ
char_y = [[214, 254, 294], [574, 614], [912, 953]]
for ri, title in enumerate(row_titles):
    for ch, yy in zip(title, char_y[ri]):
        bg.text(63, yy, ch, ha='center', va='center', fontsize=29, family=JP,
                fontweight='medium')

t = np.arange(len(ns_acc_k))
ax_left = [249, 904, 1574]
ax_w = 448
row_boxes = [[(96, 206), (247, 357)], [(437, 546), (588, 697)], [(777, 887), (929, 1037)]]
time_y = [409, 750, 1089]

for ci, name in enumerate(directions):
    key = name[:2]
    left = ax_left[ci]
    for ri in range(3):
        for k, color in enumerate(['black', '#0000ff']):
            top, bot = row_boxes[ri][k]
            ax = fig.add_axes([left / W, 1 - bot / H, ax_w / W, (bot - top) / H])
            lw = 1.0 if ri == 0 else 0.85
            sns.lineplot(x=t, y=traces[(key, ri)][k], ax=ax, color=color, linewidth=lw)
            lim = y_limits[ri]
            ax.set_xlim(0, 200)
            ax.set_ylim(-lim, lim)
            ax.set_xticks(x_ticks)
            ax.set_yticks(np.arange(-lim, lim + 1, y_steps[ri]))
            ax.grid(True, color='black', linewidth=0.8)
            ax.set_axisbelow(True)
            for sp in ax.spines.values():
                sp.set_linewidth(2.2)
                sp.set_color('black')
            ax.tick_params(length=0, labelsize=16.5)
            ax.tick_params(axis='x', pad=9)
            ax.tick_params(axis='y', pad=5)
            ax.set_xlabel('')
            ax.set_ylabel('')
            bg.text(left - 99, (top + bot) / 2, y_labels[ri], rotation=90,
                    ha='center', va='center', fontsize=18)
        bg.text(left + ax_w / 2, time_y[ri], "Time(s)", ha='center', va='center',
                fontsize=14, family=JP)

fig.savefig("out.png", dpi=100, facecolor='white')
